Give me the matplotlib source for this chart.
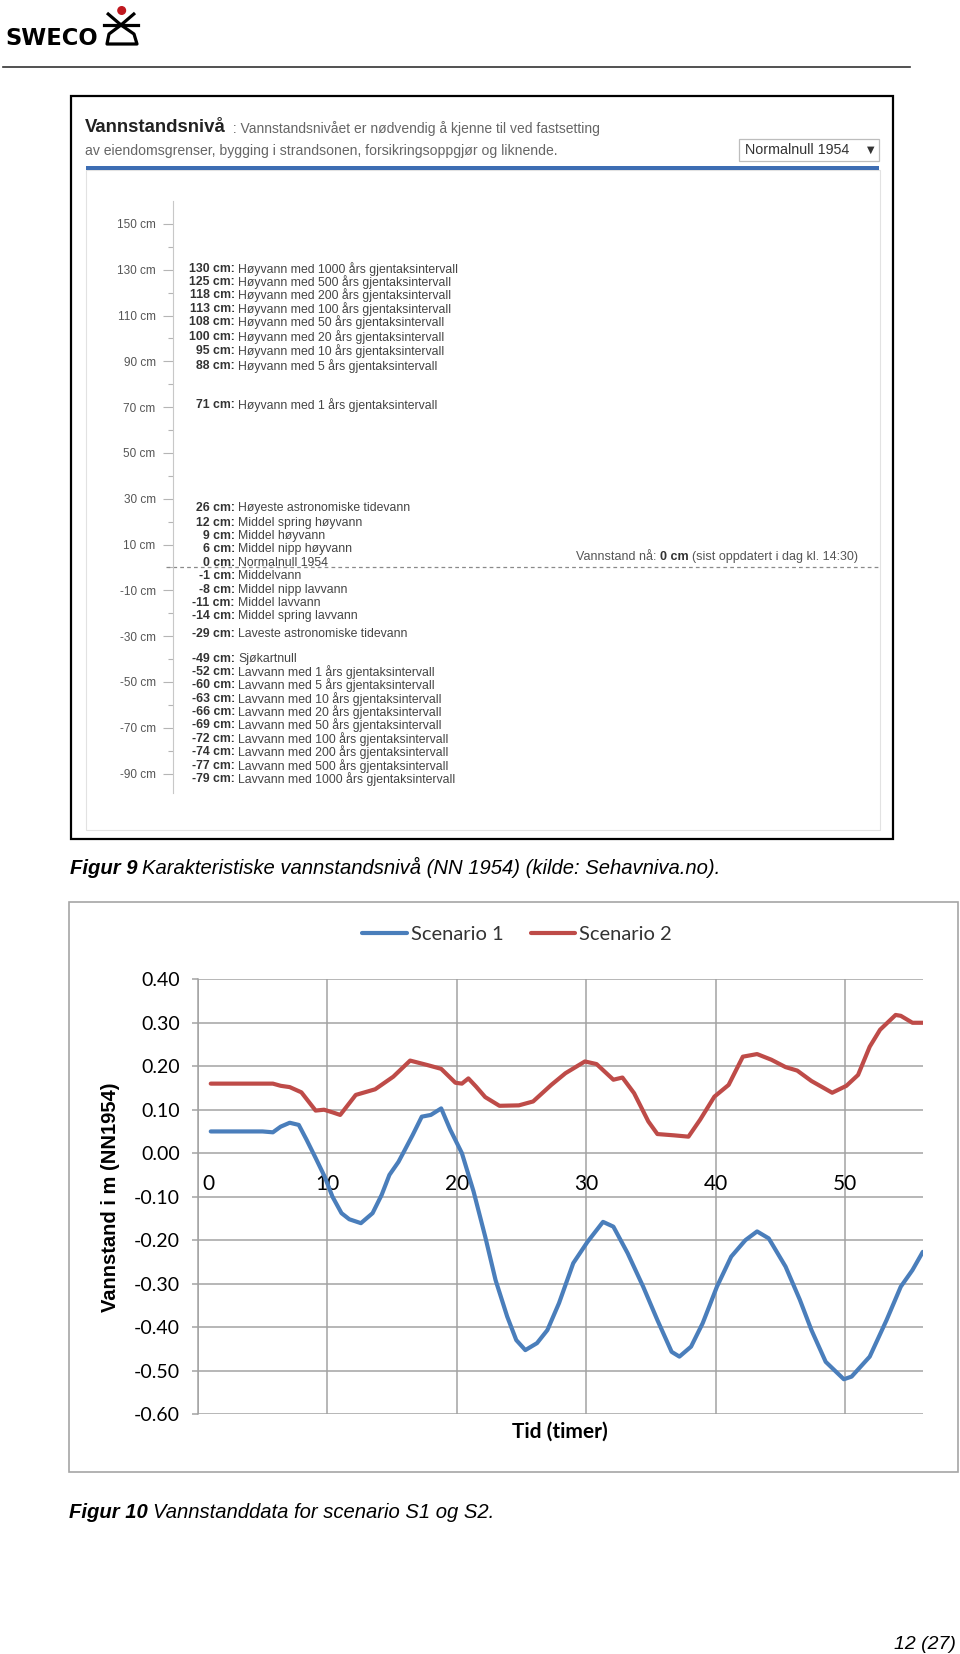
import matplotlib
matplotlib.use("Agg")
import matplotlib.pyplot as plt
from matplotlib.patches import Rectangle, Circle
from matplotlib.ticker import FixedLocator
from matplotlib.transforms import ScaledTranslation

plt.rcParams['font.family'] = ['Liberation Sans', 'DejaVu Sans']

# Figur 9: karakteristiske vannstandsnivå (cm over NN1954)
level_cm = [130, 125, 118, 113, 108, 100, 95, 88, 71,
            26, 12, 9, 6, 0, -1, -8, -11, -14, -29,
            -49, -52, -60, -63, -66, -69, -72, -74, -77, -79]
level_text = [
    "Høyvann med 1000 års gjentaksintervall",
    "Høyvann med 500 års gjentaksintervall",
    "Høyvann med 200 års gjentaksintervall",
    "Høyvann med 100 års gjentaksintervall",
    "Høyvann med 50 års gjentaksintervall",
    "Høyvann med 20 års gjentaksintervall",
    "Høyvann med 10 års gjentaksintervall",
    "Høyvann med 5 års gjentaksintervall",
    "Høyvann med 1 års gjentaksintervall",
    "Høyeste astronomiske tidevann",
    "Middel spring høyvann",
    "Middel høyvann",
    "Middel nipp høyvann",
    "Normalnull 1954",
    "Middelvann",
    "Middel nipp lavvann",
    "Middel lavvann",
    "Middel spring lavvann",
    "Laveste astronomiske tidevann",
    "Sjøkartnull",
    "Lavvann med 1 års gjentaksintervall",
    "Lavvann med 5 års gjentaksintervall",
    "Lavvann med 10 års gjentaksintervall",
    "Lavvann med 20 års gjentaksintervall",
    "Lavvann med 50 års gjentaksintervall",
    "Lavvann med 100 års gjentaksintervall",
    "Lavvann med 200 års gjentaksintervall",
    "Lavvann med 500 års gjentaksintervall",
    "Lavvann med 1000 års gjentaksintervall",
]
scale_cm = [-90, -70, -50, -30, -10, 10, 30, 50, 70, 90, 110, 130, 150]
scale_minor_cm = [-80, -60, -40, -20, 0, 20, 40, 60, 80, 100, 120, 140]
now_cm = 0

# Figur 10: vannstand for scenario 1 og 2 (m NN1954)
s1_hours = [1, 3, 5, 5.8, 6.4, 7.1, 7.8, 8.4, 9.1, 9.8, 10.4, 11.1, 11.7, 12.6,
            13.5, 14.2, 14.8, 15.5, 16.0, 16.6, 17.3, 18.0, 18.8, 19.5, 20.4,
            21.3, 22.2, 23.0, 23.9, 24.6, 25.3, 26.2, 27.0, 27.9, 29.0, 30.1,
            31.3, 32.1, 33.2, 34.4, 35.5, 36.6, 37.2, 38.1, 39.0, 40.1, 41.2,
            42.3, 43.2, 44.1, 45.4, 46.5, 47.4, 48.5, 49.9, 50.5, 51.9, 53.2,
            54.3, 55.2, 56.0]
s1_level = [0.05, 0.05, 0.05, 0.048, 0.061, 0.07, 0.065, 0.031, -0.011, -0.054,
            -0.10, -0.138, -0.152, -0.161, -0.138, -0.096, -0.05, -0.02, 0.008,
            0.042, 0.084, 0.088, 0.103, 0.054, 0.0, -0.088, -0.192, -0.292,
            -0.376, -0.43, -0.453, -0.437, -0.407, -0.345, -0.253, -0.204,
            -0.158, -0.169, -0.23, -0.307, -0.384, -0.457, -0.468, -0.445,
            -0.391, -0.307, -0.238, -0.2, -0.18, -0.196, -0.261, -0.337,
            -0.407, -0.48, -0.52, -0.514, -0.468, -0.384, -0.307, -0.269, -0.227]
s2_hours = [1, 3, 5, 5.8, 6.4, 7.1, 8.0, 9.1, 9.75, 10.4, 11.0, 12.2, 13.7, 15.1,
            16.4, 17.7, 18.8, 19.9, 20.4, 20.9, 21.5, 22.2, 23.3, 24.8, 25.9,
            27.3, 28.4, 29.9, 30.8, 32.1, 32.8, 33.7, 34.8, 35.5, 36.8, 37.9,
            38.8, 39.9, 41.0, 42.1, 43.2, 44.3, 45.4, 46.3, 47.4, 49.0, 50.1,
            51.0, 51.9, 52.7, 53.9, 54.3, 55.2, 56.0]
s2_level = [0.16, 0.16, 0.16, 0.16, 0.155, 0.152, 0.14, 0.098, 0.10, 0.094,
            0.088, 0.134, 0.147, 0.176, 0.213, 0.203, 0.194, 0.162, 0.16, 0.172,
            0.153, 0.129, 0.109, 0.11, 0.119, 0.157, 0.184, 0.211, 0.205, 0.169,
            0.174, 0.138, 0.073, 0.044, 0.041, 0.038, 0.077, 0.13, 0.157, 0.222,
            0.228, 0.215, 0.198, 0.19, 0.166, 0.139, 0.155, 0.18, 0.245, 0.284,
            0.318, 0.316, 0.30, 0.30]
x_ticks = [0, 10, 20, 30, 40, 50]
y_ticks = [-0.6, -0.5, -0.4, -0.3, -0.2, -0.1, 0.0, 0.1, 0.2, 0.3, 0.4]

W, H = 960, 1654
fig = plt.figure(figsize=(W / 100, H / 100), dpi=100)


def frac(x0, y0, x1, y1):
    return [x0 / W, 1 - y1 / H, (x1 - x0) / W, (y1 - y0) / H]


def spread(values, gap):
    # labels in a cluster are centred on the mean, gap apart (like the web page)
    groups = [[v] for v in sorted(values, reverse=True)]

    def pos(g):
        c = sum(g) / len(g)
        return [c + (len(g) - 1) / 2 * gap - i * gap for i in range(len(g))]

    changed = True
    while changed:
        changed = False
        for i in range(len(groups) - 1):
            if pos(groups[i])[-1] - pos(groups[i + 1])[0] < gap:
                groups[i] = groups[i] + groups.pop(i + 1)
                changed = True
                break
    return dict(zip([v for g in groups for v in g], [p for g in groups for p in pos(g)]))


# page layer in pixel coordinates
pg = fig.add_axes([0, 0, 1, 1])
pg.set_xlim(0, W)
pg.set_ylim(H, 0)
pg.axis('off')

# header
pg.text(5, 45, "SWECO", family='DejaVu Sans', fontweight='bold', fontsize=16.3, va='baseline')
pg.plot([107, 121, 135], [13, 25, 13], color='black', lw=2.3, solid_capstyle='butt')
pg.plot([104, 138], [25, 25], color='black', lw=2.3)
pg.plot([121, 109, 107, 137, 134, 121], [25, 34, 44, 44, 34, 25], color='black', lw=2.3)
pg.add_patch(Circle((121.7, 10.5), 3.8, color='#c0181f'))
pg.plot([3, 910], [66.5, 66.5], color='#333333', lw=1.2)

# Figur 9 frame
pg.add_patch(Rectangle((71, 96), 822, 743, fill=False, ec='black', lw=1.6))
pg.add_patch(Rectangle((86, 170), 794, 660, fill=False, ec='#e2e2e2', lw=0.8))
pg.add_patch(Rectangle((86, 166), 793, 4, color='#3d6db3', lw=0))
t = pg.text(85, 132, "Vannstandsnivå", fontweight='bold', fontsize=13.4, color='#222222', va='baseline')
pg.annotate(" : Vannstandsnivået er nødvendig å kjenne til ved fastsetting", xy=(1, 0), xycoords=t,
            xytext=(2, 0), textcoords='offset points', va='bottom', fontsize=10, color='#666666')
pg.text(85, 155, "av eiendomsgrenser, bygging i strandsonen, forsikringsoppgjør og liknende.",
        fontsize=10.1, color='#666666', va='baseline')
pg.add_patch(Rectangle((739, 139), 140, 22, fc='white', ec='#bdbdbd', lw=0.9))
pg.text(745, 150, "Normalnull 1954", fontsize=10.3, color='#333333', va='center')
pg.text(874, 150, "▼", family='DejaVu Sans', fontsize=7, color='#333333', va='center', ha='right')

# Figur 9 level scale
wa = fig.add_axes(frac(173, 201, 880, 793))
wa.patch.set_alpha(0)
wa.set_xlim(0, 707)
wa.set_ylim(-98.5, 160)
for s in ['top', 'right', 'bottom']:
    wa.spines[s].set_visible(False)
wa.spines['left'].set_color('#c8c8c8')
wa.spines['left'].set_linewidth(0.8)
wa.set_xticks([])
wa.set_yticks(scale_cm, labels=[f"{v} cm" for v in scale_cm])
wa.yaxis.set_minor_locator(FixedLocator(scale_minor_cm))
wa.tick_params(axis='y', which='major', length=7, width=0.8, color='#b5b5b5',
               labelsize=8.5, labelcolor='#555555', pad=5.5)
wa.tick_params(axis='y', which='minor', length=3.5, width=0.8, color='#b5b5b5')

label_pos = spread(level_cm, 5.85)
for v, desc in zip(level_cm, level_text):
    wa.text(62, label_pos[v], f"{v} cm:", ha='right', va='center', fontweight='bold',
            fontsize=8.8, color='#333333')
    wa.text(65, label_pos[v], desc, ha='left', va='center', fontsize=8.8, color='#444444')

wa.plot([-7, 705], [now_cm, now_cm], ls=(0, (3, 2.5)), color='#8a8a8a', lw=0.9, clip_on=False)
t3 = wa.annotate("(sist oppdatert i dag kl. 14:30)", xy=(685, now_cm), xytext=(0, 3),
                 textcoords='offset points', ha='right', va='bottom', fontsize=9, color='#555555')
t2 = wa.annotate(f"{now_cm} cm", xy=(0, 0), xycoords=t3, xytext=(-2.5, 0), textcoords='offset points',
                 ha='right', va='bottom', fontweight='bold', fontsize=9, color='#333333')
wa.annotate("Vannstand nå:", xy=(0, 0), xycoords=t2, xytext=(-2.5, 0), textcoords='offset points',
            ha='right', va='bottom', fontsize=9, color='#555555')

c9 = pg.text(70, 874, "Figur 9", fontweight='bold', style='italic', fontsize=14.6, va='baseline')
pg.annotate("Karakteristiske vannstandsnivå (NN 1954) (kilde: Sehavniva.no).", xy=(1, 0), xycoords=c9,
            xytext=(3.5, 0), textcoords='offset points', va='bottom', style='italic', fontsize=14.6)

# Figur 10 frame and chart
pg.add_patch(Rectangle((69, 902), 889, 570, fill=False, ec='#a6a6a6', lw=1.2))

ax = fig.add_axes(frac(197.8, 979.3, 922.8, 1414))
ax.patch.set_alpha(0)
l1, = ax.plot(s1_hours, s1_level, color='#4a7ebb', lw=3, solid_joinstyle='round',
              solid_capstyle='round', label='Scenario 1', zorder=3)
l2, = ax.plot(s2_hours, s2_level, color='#be4b48', lw=3, solid_joinstyle='round',
              solid_capstyle='round', label='Scenario 2', zorder=3)
ax.set_xlim(0, 56)
ax.set_ylim(-0.6, 0.4)
ax.set_yticks(y_ticks, labels=[f"{v:.2f}" for v in y_ticks])
ax.set_xticks(x_ticks, labels=[str(v) for v in x_ticks], fontweight='bold')
ax.grid(True, color='#a3a3a3', lw=1.1)
ax.set_axisbelow(True)
for s in ['top', 'right']:
    ax.spines[s].set_visible(False)
ax.spines['bottom'].set_position(('data', 0))
ax.spines['bottom'].set_visible(False)
ax.spines['left'].set_color('#a3a3a3')
ax.spines['left'].set_linewidth(1.1)
ax.tick_params(axis='y', length=4, width=1.1, color='#a3a3a3', labelsize=14, pad=9,
               labelfontfamily='Lato')
ax.tick_params(axis='x', length=0, labelsize=15, pad=15, labelfontfamily='Lato')
# first category label sits just right of the value axis, as in Excel
first = ax.get_xticklabels()[0]
first.set_transform(first.get_transform() + ScaledTranslation(11 / 100, 0, fig.dpi_scale_trans))

fig.text(111 / W, 1 - 1197 / H, "Vannstand i m (NN1954)", rotation=90, ha='center', va='center',
         fontweight='bold', fontsize=14.5)
fig.text(560 / W, 1 - 1432 / H, "Tid (timer)", ha='center', va='center', fontweight='bold',
         fontsize=15, family='Lato')
fig.legend(handles=[l1, l2], loc='center', bbox_to_anchor=(517 / W, 1 - 934 / H), ncol=2,
           frameon=False, prop={'family': 'Lato', 'size': 14.5}, handlelength=2.2,
           handletextpad=0.2, columnspacing=1.35, labelcolor='#333333')

c10 = pg.text(69, 1518, "Figur 10", fontweight='bold', style='italic', fontsize=14.6, va='baseline')
pg.annotate("Vannstanddata for scenario S1 og S2.", xy=(1, 0), xycoords=c10,
            xytext=(3.5, 0), textcoords='offset points', va='bottom', style='italic', fontsize=14.6)
pg.text(956, 1649, "12 (27)", ha='right', style='italic', fontsize=14, va='baseline')

fig.savefig("out.png", dpi=100)
